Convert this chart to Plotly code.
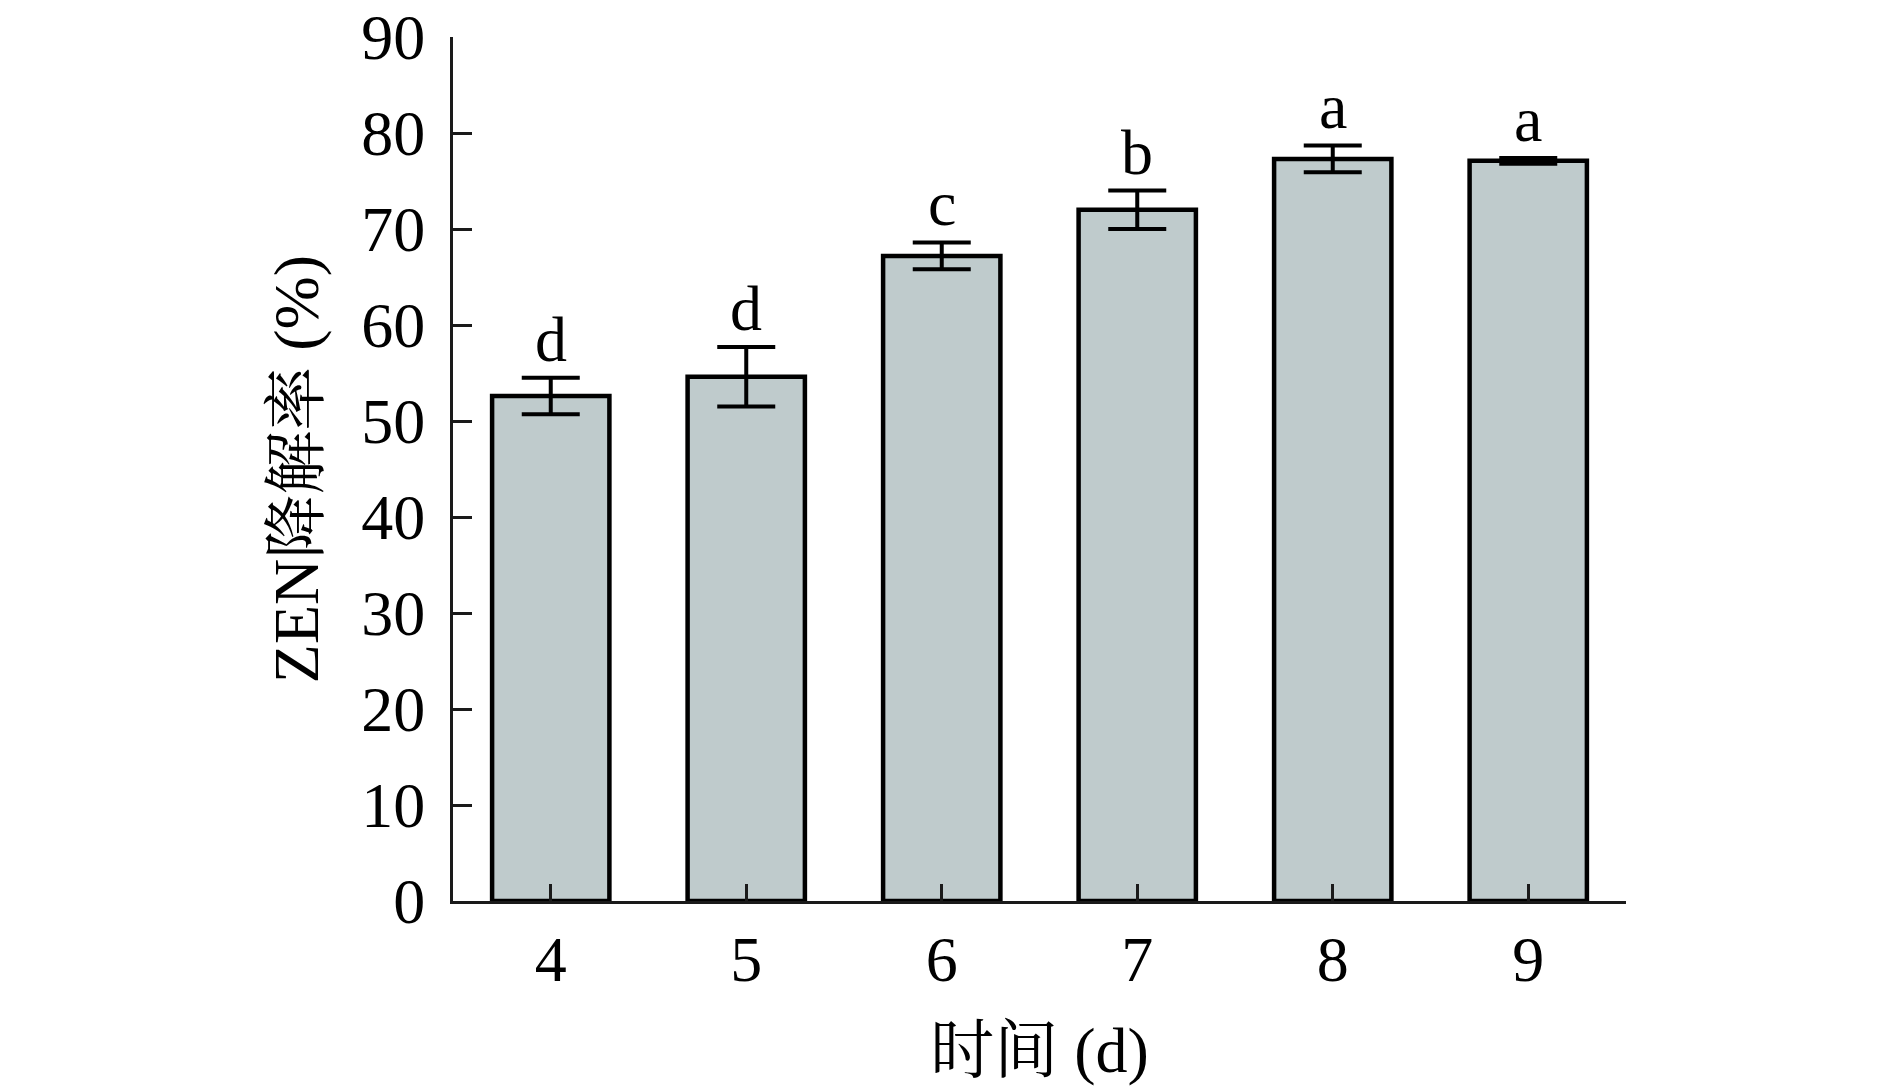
import plotly.graph_objects as go

days = ["4", "5", "6", "7", "8", "9"]
rate = [52.6, 54.6, 67.2, 72.0, 77.3, 77.1]
err = [1.9, 3.1, 1.4, 2.0, 1.4, 0.3]
letters = ["d", "d", "c", "b", "a", "a"]
yticks = [0, 10, 20, 30, 40, 50, 60, 70, 80, 90]

FONT = "Liberation Serif, Times New Roman, Noto Serif CJK SC, Noto Sans CJK SC, serif"
FS = 64

fig = go.Figure()
fig.add_trace(go.Bar(
    x=[int(d) for d in days], y=rate,
    width=0.6,
    marker=dict(color="#bfcbcc", line=dict(color="black", width=4.5)),
    error_y=dict(type="data", array=err, visible=True, color="black", thickness=4, width=29),
    showlegend=False,
))

for d, v, e, l in zip(days, rate, err, letters):
    fig.add_annotation(x=int(d), y=v + e, text=l, showarrow=False, yanchor="bottom",
                       yshift=1, font=dict(family=FONT, size=FS, color="black"))

fig.update_layout(
    width=1890, height=1088,
    margin=dict(l=445, r=272, t=29, b=195, autoexpand=False),
    plot_bgcolor="white", paper_bgcolor="white",
    font=dict(family=FONT, size=FS, color="black"),
)
fig.update_xaxes(
    range=[3.5, 9.5], tickvals=[int(d) for d in days], ticktext=days,
    showline=True, linecolor="#1a1a1a", linewidth=3,
    ticks="inside", ticklen=17, tickwidth=3, tickcolor="#1a1a1a",
    showgrid=False, zeroline=False, automargin=False,
    ticklabeloverflow="allow",
    tickfont=dict(family=FONT, size=FS),
    title=dict(text="时间 (d)", font=dict(family=FONT, size=FS), standoff=34),
)
fig.update_yaxes(
    range=[0, 90], tickvals=yticks,
    showline=True, linecolor="#1a1a1a", linewidth=3,
    ticks="inside", ticklen=19, tickwidth=3, tickcolor="#1a1a1a",
    showgrid=False, zeroline=False, automargin=False,
    ticklabelstandoff=12, ticklabeloverflow="allow",
    tickfont=dict(family=FONT, size=FS),
    title=dict(text="ZEN降解率 (%)", font=dict(family=FONT, size=FS), standoff=22),
)

fig.write_html("out.html")
